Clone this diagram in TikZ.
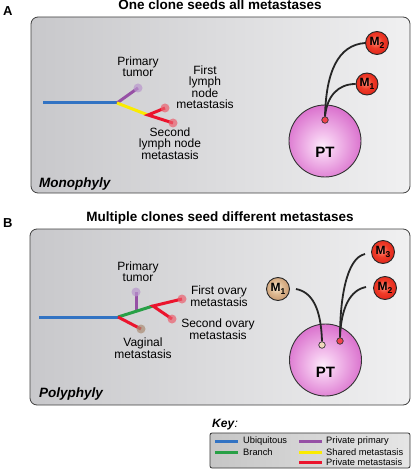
\documentclass[tikz,border=0pt]{standalone}
\usepackage{fontspec}
\setmainfont{Liberation Sans}
\definecolor{ubq}{RGB}{50,115,195}
\definecolor{brn}{RGB}{40,160,70}
\definecolor{prp}{RGB}{150,80,165}
\definecolor{shm}{RGB}{250,235,0}
\definecolor{pvm}{RGB}{235,20,45}
\definecolor{prpd}{RGB}{185,150,205}
\definecolor{pvmd}{RGB}{235,95,110}
\definecolor{tand}{RGB}{170,140,115}
\definecolor{pnlA}{RGB}{200,200,203}
\definecolor{pnlB}{RGB}{240,240,241}
\definecolor{ptA}{RGB}{252,236,250}
\definecolor{ptB}{RGB}{244,196,238}
\definecolor{ptC}{RGB}{214,100,200}
\definecolor{ptD}{RGB}{182,42,162}
\definecolor{rdA}{RGB}{255,150,130}
\definecolor{rdB}{RGB}{240,60,40}
\definecolor{rdC}{RGB}{215,25,20}
\definecolor{rdD}{RGB}{165,15,15}
\definecolor{tnA}{RGB}{250,236,215}
\definecolor{tnB}{RGB}{222,185,145}
\definecolor{tnC}{RGB}{185,135,95}
\definecolor{tnD}{RGB}{140,95,60}
\pgfdeclareradialshading{ptshade}{\pgfpoint{-2bp}{-4bp}}{color(0bp)=(ptA); color(8bp)=(ptB); color(30bp)=(ptC); color(50bp)=(ptD); color(60bp)=(ptD)}
\pgfdeclareradialshading{redshade}{\pgfpoint{-4bp}{4bp}}{color(0bp)=(rdA); color(14bp)=(rdB); color(36bp)=(rdC); color(50bp)=(rdD); color(60bp)=(rdD)}
\pgfdeclareradialshading{tanshade}{\pgfpoint{-4bp}{4bp}}{color(0bp)=(tnA); color(14bp)=(tnB); color(36bp)=(tnC); color(50bp)=(tnD); color(60bp)=(tnD)}
\tikzset{
  branch/.style={line width=3pt},
  tdot/.style={circle, inner sep=0pt, minimum size=9pt, fill opacity=0.7},
  lbl/.style={font=\fontsize{12}{10.8}\selectfont, align=center, inner sep=0pt},
  ttl/.style={font=\bfseries\fontsize{13.5}{14}\selectfont, inner sep=0pt, anchor=base},
  letter/.style={font=\bfseries\fontsize{13}{14}\selectfont, inner sep=0pt, anchor=base west},
  kind/.style={font=\bfseries\itshape\fontsize{13.5}{14}\selectfont, inner sep=0pt, anchor=base west},
  panel/.style={draw=black!75, line width=0.8pt, rounded corners=7pt, left color=pnlA, right color=pnlB},
  ptball/.style={circle, draw=black!80, line width=0.9pt, shade, shading=ptshade, minimum size=72pt, inner sep=0pt},
  mball/.style={circle, draw=black!85, line width=0.9pt, shade, shading=redshade, minimum size=23pt, inner sep=0pt, font=\bfseries\fontsize{12}{12}\selectfont},
  tball/.style={mball, shading=tanshade},
  sdot/.style={circle, draw=black!80, line width=0.7pt, minimum size=6.5pt, inner sep=0pt},
  link/.style={line width=1.8pt, black!85},
  ptlbl/.style={font=\bfseries\fontsize{15}{15}\selectfont, inner sep=0pt, anchor=base},
  keyln/.style={line width=3pt},
  keytx/.style={font=\fontsize{9.3}{10}\selectfont, inner sep=0pt, anchor=west},
}
\newcommand{\Msub}[1]{M\raisebox{-2.5pt}{\fontsize{8.5}{8}\selectfont #1}}
\begin{document}
\begin{tikzpicture}[x=1pt, y=-1pt]
\useasboundingbox (0,0) rectangle (411,470);
% ---------------- Panel A ----------------
\node[letter] (labA) at (3,16) {A};
\node[ttl] (ttlA) at (220,9.5) {One clone seeds all metastases};
\draw[panel] (31,17) rectangle (410,193);
\node[kind] (monA) at (39,187) {Monophyly};
% tree A
\coordinate (a0) at (43,103);
\coordinate (aj) at (117,103);
\coordinate (ay) at (148,115);
\coordinate (aP) at (138,88);
\coordinate (aF) at (165,108);
\coordinate (aS) at (173,123);
\draw[branch, ubq] (a0) -- (aj);
\draw[branch, prp] (aj) -- (aP);
\draw[branch, shm] (aj) -- (ay);
\draw[branch, pvm] (aF) -- (ay) -- (aS);
\node[tdot, fill=prpd] (aPd) at (aP) {};
\node[tdot, fill=pvmd] (aFd) at (aF) {};
\node[tdot, fill=pvmd] (aSd) at (aS) {};
\node[lbl] (lPA) at (138,67) {Primary\\tumor};
\node[lbl] (lFA) at (205,87) {First\\lymph\\node\\metastasis};
\node[lbl] (lSA) at (170,144) {Second\\lymph node\\metastasis};
% PT A
\node[ptball] (ptA) at (325,141) {};
\node[ptlbl] (ptAl) at (325,158) {PT};
\node[sdot, fill=pvmd!70!red] (dA) at (325,120) {};
\node[mball] (m2A) at (377,43) {\Msub{2}};
\node[mball, minimum size=22pt] (m1A) at (367,84) {\Msub{1}};
\draw[link] (dA.north) .. controls (326,72) and (338,45) .. (m2A.west);
\draw[link] (dA.north) .. controls (327,96) and (338,84) .. (m1A.west);
% ---------------- Panel B ----------------
\node[letter] (labB) at (3,227) {B};
\node[ttl] (ttlB) at (220,221.5) {Multiple clones seed different metastases};
\draw[panel] (30,229) rectangle (410,405);
\node[kind] (polB) at (39,397) {Polyphyly};
% tree B
\coordinate (b0) at (39,317);
\coordinate (bj) at (118,317);
\coordinate (bg) at (153,306);
\coordinate (bpb) at (136,311.3);
\coordinate (bP) at (136,292);
\coordinate (bF) at (182,299);
\coordinate (bS) at (172,319);
\coordinate (bV) at (141,329);
\draw[branch, ubq] (b0) -- (bj);
\draw[branch, prp] (bpb) -- (bP);
\draw[branch, brn] (bj) -- (bg);
\draw[branch, pvm] (bF) -- (bg) -- (bS);
\draw[branch, pvm] (bj) -- (bV);
\node[tdot, fill=prpd] (bPd) at (bP) {};
\node[tdot, fill=pvmd] (bFd) at (bF) {};
\node[tdot, fill=pvmd] (bSd) at (bS) {};
\node[tdot, fill=tand] (bVd) at (bV) {};
\node[lbl] (lPB) at (138,272) {Primary\\tumor};
\node[lbl] (lFB) at (219,296) {First ovary\\metastasis};
\node[lbl] (lSB) at (218,329) {Second ovary\\metastasis};
\node[lbl] (lVB) at (143,348) {Vaginal\\metastasis};
% PT B
\node[ptball] (ptB) at (325.5,360) {};
\node[ptlbl] (ptBl) at (325.5,377) {PT};
\node[sdot, fill=tnA!60!tnB] (dB1) at (322,345) {};
\node[sdot, fill=pvmd!70!red] (dB2) at (340,341) {};
\node[tball] (m1B) at (278,289) {\Msub{1}};
\node[mball] (m3B) at (383,252) {\Msub{3}};
\node[mball] (m2B) at (385,288) {\Msub{2}};
\draw[link] (m1B.east) ++(6,0) coordinate (m1Bs) .. controls (312,292) and (321,308) .. (dB1.north);
\draw[link] (m3B.west) ++(-6,2) coordinate (m3Bs) .. controls (346,258) and (340,300) .. (dB2.north);
\draw[link] (m2B.west) ++(-7,-1) coordinate (m2Bs) .. controls (350,290) and (341,308) .. (dB2.north);
% ---------------- Key ----------------
\node[font=\fontsize{12}{12}\selectfont, inner sep=0pt, anchor=base west] (keyT) at (212,427) {\textbf{\textit{Key}}\textit{:}};
\draw[draw=black!80, line width=0.8pt, rounded corners=2pt, left color=gray!45, right color=gray!20] (210,433) rectangle (410,468);
\coordinate (k1a) at (215,441); \coordinate (k1b) at (238,441);
\coordinate (k2a) at (215,452); \coordinate (k2b) at (238,452);
\coordinate (k3a) at (299,441); \coordinate (k3b) at (322,441);
\coordinate (k4a) at (299,452); \coordinate (k4b) at (322,452);
\coordinate (k5a) at (299,462); \coordinate (k5b) at (322,462);
\draw[keyln, ubq] (k1a) -- (k1b);
\draw[keyln, brn] (k2a) -- (k2b);
\draw[keyln, prp] (k3a) -- (k3b);
\draw[keyln, shm] (k4a) -- (k4b);
\draw[keyln, pvm] (k5a) -- (k5b);
\node[keytx] (t1) at (243,441) {Ubiquitous};
\node[keytx] (t2) at (243,452) {Branch};
\node[keytx] (t3) at (326,441) {Private primary};
\node[keytx] (t4) at (326,452) {Shared metastasis};
\node[keytx] (t5) at (326,462) {Private metastasis};
\end{tikzpicture}
\end{document}
